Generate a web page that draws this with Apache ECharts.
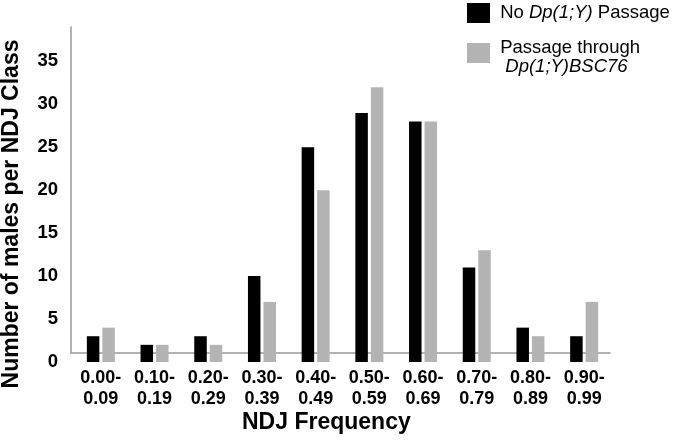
<!DOCTYPE html>
<html>
<head>
<meta charset="utf-8">
<script src="https://cdn.jsdelivr.net/npm/echarts@6/dist/echarts.min.js"></script>
<style>html,body{margin:0;padding:0;background:#fff;}#c{width:677px;height:441px;}</style>
</head>
<body>
<div id="c"></div>
<script>
var categories = ['0.00-\n0.09','0.10-\n0.19','0.20-\n0.29','0.30-\n0.39','0.40-\n0.49','0.50-\n0.59','0.60-\n0.69','0.70-\n0.79','0.80-\n0.89','0.90-\n0.99'];
var noPassage = [3, 2, 3, 10, 25, 29, 28, 11, 4, 3];
var passageBSC76 = [4, 2, 2, 7, 20, 32, 28, 13, 3, 7];
var yTicks = [0, 5, 10, 15, 20, 25, 30, 35];
var seriesNames = ['No Dp(1;Y) Passage', 'Passage through Dp(1;Y)BSC76'];

var FONT = "'Liberation Sans', Arial, sans-serif";
var chart = echarts.init(document.getElementById('c'), null, {renderer: 'canvas'});
chart.setOption({
  animation: false,
  backgroundColor: '#fff',
  textStyle: {fontFamily: FONT},
  title: {
    text: 'NDJ Frequency',
    left: 242, top: 411,
    padding: 0,
    textStyle: {fontFamily: FONT, fontSize: 23, fontWeight: 'bold', color: '#000'}
  },
  graphic: [{
    type: 'text',
    x: 12, y: 214,
    rotation: Math.PI / 2,
    style: {
      text: 'Number of males per NDJ Class',
      fontFamily: FONT, fontSize: 23, fontWeight: 'bold',
      fill: '#000', align: 'center', verticalAlign: 'middle'
    }
  }],
  legend: {
    orient: 'vertical',
    left: 467, top: 3,
    padding: 0,
    itemGap: 6.5,
    itemWidth: 23, itemHeight: 20,
    icon: 'rect',
    data: seriesNames,
    formatter: function (name) {
      if (name === seriesNames[0]) return ' No {i|Dp(1;Y)} Passage';
      return '{n| Passage through}\n  {i|Dp(1;Y)BSC76}';
    },
    textStyle: {
      fontFamily: FONT, fontSize: 18.5, color: '#000', lineHeight: 19,
      rich: {
        i: {fontStyle: 'italic', fontSize: 18.5, lineHeight: 19, fontFamily: FONT, color: '#000'},
        n: {fontSize: 18.5, lineHeight: 28, verticalAlign: 'bottom', fontFamily: FONT, color: '#000'}
      }
    }
  },
  grid: [
    {left: 74, right: 66, top: 27, bottom: 79},
    {left: 71, right: 67, top: 27, bottom: 88}
  ],
  xAxis: [{
    type: 'category', gridIndex: 0,
    data: categories,
    axisLine: {show: false},
    axisTick: {show: false},
    axisLabel: {
      interval: 0, margin: 6,
      fontFamily: FONT, fontSize: 18, fontWeight: 'bold', color: '#000', lineHeight: 21
    }
  }, {
    type: 'category', gridIndex: 1, data: categories, position: 'bottom',
    axisLine: {show: true, onZero: false, lineStyle: {color: '#999999', width: 1.5}},
    axisTick: {show: false}, axisLabel: {show: false}, splitLine: {show: false}
  }],
  yAxis: [{
    type: 'value', gridIndex: 0,
    min: 0, max: 39, interval: 5,
    axisLine: {show: false},
    axisTick: {show: false},
    splitLine: {show: false},
    axisLabel: {
      margin: 16,
      fontFamily: FONT, fontSize: 18.5, fontWeight: 'bold', color: '#000',
      formatter: function (v) { return yTicks.indexOf(v) >= 0 ? String(v) : ''; }
    }
  }, {
    type: 'value', gridIndex: 1, min: 0, max: 1, position: 'left',
    axisLine: {show: true, onZero: false, lineStyle: {color: '#999999', width: 1.5}},
    axisTick: {show: false}, axisLabel: {show: false}, splitLine: {show: false}
  }],
  series: [{
    name: seriesNames[0], type: 'bar', xAxisIndex: 0, yAxisIndex: 0,
    data: noPassage, barWidth: 12.5, barGap: '24%',
    itemStyle: {color: '#000000'}
  }, {
    name: seriesNames[1], type: 'bar', xAxisIndex: 0, yAxisIndex: 0,
    data: passageBSC76, barWidth: 12.5, barGap: '24%',
    itemStyle: {color: '#b3b3b3'}
  }]
});
</script>
</body>
</html>
